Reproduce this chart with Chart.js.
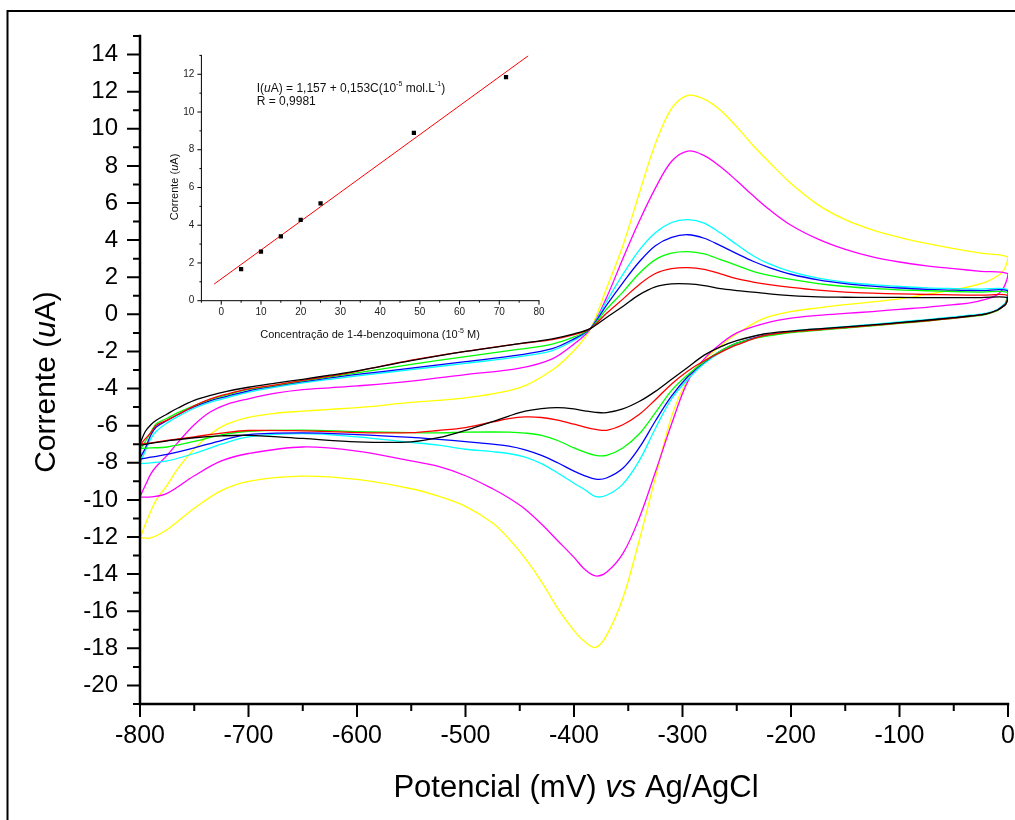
<!DOCTYPE html>
<html><head><meta charset="utf-8">
<script src="https://cdn.jsdelivr.net/npm/chart.js@4.4.1/dist/chart.umd.min.js"></script>
<style>
html,body{margin:0;padding:0;background:#fff;}
#wrap{position:relative;width:1015px;height:820px;overflow:hidden;background:#fff;}
#main{position:absolute;left:0;top:0;}
#inset{position:absolute;left:130px;top:40px;}
</style></head><body>
<div id="wrap"><canvas id="main" width="1015" height="820"></canvas><canvas id="inset" width="420" height="300"></canvas></div>
<script>
// ---------- main voltammogram data ----------
const potAnodic = [-800,-795,-790,-785,-775,-765,-750,-735,-720,-700,-675,-650,-625,-600,-550,-500,-450,-420,-400,-385,-370,-355,-340,-325,-310,-295,-280,-265,-250,-235,-220,-200,-175,-150,-125,-100,-75,-50,-25,0];
const potCathodic = [-2,-5,-10,-20,-35,-50,-75,-100,-125,-150,-175,-200,-225,-250,-265,-280,-295,-310,-325,-340,-355,-370,-380,-390,-400,-415,-430,-445,-460,-475,-500,-525,-550,-600,-650,-700,-725,-750,-775,-790,-800];

const blackAnodic = [-6.96,-6.3,-5.95,-5.71,-5.37,-5.05,-4.64,-4.37,-4.15,-3.93,-3.71,-3.50,-3.28,-3.05,-2.50,-2.0,-1.58,-1.32,-1.05,-0.77,-0.17,0.42,1.05,1.48,1.64,1.64,1.55,1.38,1.28,1.20,1.10,1.01,0.94,0.92,0.91,0.91,0.90,0.90,0.90,0.90];
const blackCathodic = [0.55,0.4,0.22,0.03,-0.09,-0.18,-0.32,-0.45,-0.57,-0.68,-0.78,-0.9,-1.06,-1.42,-1.75,-2.2,-2.85,-3.5,-4.15,-4.7,-5.1,-5.3,-5.28,-5.2,-5.1,-5.03,-5.08,-5.22,-5.48,-5.78,-6.25,-6.65,-6.87,-6.87,-6.69,-6.52,-6.55,-6.65,-6.82,-6.95,-7.05];

const redAnodic = [-7.05,-6.7,-6.38,-5.98,-5.7,-5.4,-4.93,-4.56,-4.3,-4.02,-3.80,-3.56,-3.33,-3.07,-2.47,-2.0,-1.58,-1.36,-1.1,-0.77,0.06,0.82,1.6,2.2,2.46,2.52,2.42,2.18,1.92,1.74,1.6,1.45,1.30,1.2,1.14,1.10,1.07,1.05,1.03,1.02];
const redCathodic = [0.56,0.42,0.22,0.02,-0.11,-0.2,-0.35,-0.47,-0.6,-0.72,-0.83,-0.95,-1.15,-1.65,-2.05,-2.5,-3.05,-3.75,-4.6,-5.4,-5.95,-6.25,-6.2,-6.08,-5.92,-5.7,-5.56,-5.53,-5.62,-5.8,-6.1,-6.26,-6.38,-6.37,-6.28,-6.26,-6.4,-6.6,-6.8,-6.93,-7.0];

const greenAnodic = [-7.3,-6.85,-6.35,-5.9,-5.6,-5.3,-4.92,-4.58,-4.34,-4.05,-3.83,-3.59,-3.37,-3.15,-2.7,-2.28,-1.88,-1.6,-1.22,-0.77,0.28,1.2,2.2,2.95,3.3,3.38,3.26,2.95,2.64,2.32,2.1,1.88,1.66,1.5,1.40,1.32,1.27,1.23,1.2,1.17];
const greenCathodic = [0.58,0.42,0.2,0.0,-0.12,-0.21,-0.36,-0.49,-0.62,-0.74,-0.86,-0.98,-1.2,-1.55,-1.98,-2.55,-3.25,-4.1,-5.3,-6.45,-7.2,-7.6,-7.6,-7.43,-7.2,-6.8,-6.52,-6.4,-6.35,-6.34,-6.35,-6.39,-6.38,-6.32,-6.24,-6.3,-6.5,-6.85,-7.15,-7.2,-7.23];

const blueAnodic = [-7.75,-7.2,-6.5,-6.07,-5.72,-5.4,-4.98,-4.65,-4.42,-4.12,-3.86,-3.63,-3.43,-3.24,-2.9,-2.55,-2.18,-1.85,-1.32,-0.77,0.5,1.7,2.82,3.7,4.15,4.29,4.1,3.7,3.27,2.86,2.52,2.16,1.86,1.66,1.52,1.42,1.35,1.3,1.28,1.26];
const blueCathodic = [0.6,0.44,0.22,0.02,-0.1,-0.19,-0.33,-0.46,-0.59,-0.71,-0.83,-0.95,-1.15,-1.55,-1.98,-2.58,-3.35,-4.4,-5.75,-7.2,-8.3,-8.82,-8.88,-8.7,-8.45,-8.0,-7.6,-7.3,-7.1,-7.0,-6.86,-6.74,-6.63,-6.48,-6.39,-6.48,-6.8,-7.2,-7.55,-7.7,-7.8];

const cyanAnodic = [-8.02,-7.35,-6.7,-6.3,-5.85,-5.5,-5.06,-4.73,-4.5,-4.19,-3.92,-3.69,-3.5,-3.32,-2.98,-2.64,-2.28,-1.95,-1.4,-0.77,0.7,2.15,3.45,4.4,4.95,5.1,4.92,4.38,3.76,3.16,2.72,2.3,1.95,1.73,1.6,1.5,1.43,1.39,1.36,1.33];
const cyanCathodic = [0.65,0.48,0.26,0.06,-0.05,-0.14,-0.28,-0.41,-0.54,-0.66,-0.78,-0.9,-1.15,-1.65,-2.05,-2.65,-3.5,-4.55,-6.15,-7.9,-9.15,-9.75,-9.82,-9.45,-9.1,-8.55,-8.05,-7.7,-7.5,-7.4,-7.27,-7.05,-6.9,-6.6,-6.43,-6.6,-7.0,-7.5,-7.9,-8.0,-8.04];

const magentaAnodic = [-9.84,-9.2,-8.6,-8.2,-7.6,-6.9,-5.95,-5.25,-4.85,-4.55,-4.25,-4.06,-3.96,-3.86,-3.6,-3.25,-2.9,-2.4,-1.6,-0.8,0.9,3.0,5.0,6.8,8.25,8.8,8.55,7.95,7.2,6.4,5.65,4.8,4.05,3.5,3.1,2.82,2.61,2.46,2.32,2.19];
const magentaCathodic = [1.7,1.35,1.05,0.82,0.62,0.52,0.38,0.27,0.15,0.05,-0.06,-0.21,-0.5,-1.0,-1.6,-2.4,-3.6,-5.9,-8.5,-11.0,-12.9,-13.9,-14.1,-13.75,-13.1,-12.2,-11.3,-10.5,-9.9,-9.4,-8.7,-8.2,-7.9,-7.37,-7.15,-7.5,-7.9,-8.7,-9.65,-9.84,-9.84];

const yellowAnodic = [-12.05,-11.3,-10.6,-10.0,-9.2,-8.3,-7.25,-6.45,-5.92,-5.55,-5.33,-5.22,-5.12,-5.03,-4.75,-4.5,-3.95,-3.0,-1.95,-0.8,1.4,3.7,6.5,9.2,11.1,11.8,11.6,11.0,10.1,9.1,8.2,7.05,5.9,5.1,4.55,4.15,3.82,3.54,3.3,3.09];
const yellowCathodic = [2.6,2.3,2.05,1.75,1.5,1.32,1.07,0.83,0.67,0.52,0.35,0.15,-0.22,-1.05,-1.7,-2.45,-3.5,-5.5,-8.8,-12.2,-15.3,-17.3,-17.95,-17.65,-17.05,-15.85,-14.4,-13.15,-12.1,-11.25,-10.35,-9.8,-9.4,-8.9,-8.72,-9.0,-9.5,-10.45,-11.6,-12.05,-12.03];

const seriesColors = ['#000000','#FF0000','#00FF00','#0000FF','#00FFFF','#FF00FF','#FFFF00'];
const seriesNames = ['black','red','green','blue','cyan','magenta','yellow'];
const anodicSets = [blackAnodic, redAnodic, greenAnodic, blueAnodic, cyanAnodic, magentaAnodic, yellowAnodic];
const cathodicSets = [blackCathodic, redCathodic, greenCathodic, blueCathodic, cyanCathodic, magentaCathodic, yellowCathodic];

// ---------- inset data ----------
const concentrations = [5, 10, 15, 20, 25, 48.5, 71.7];
const peakCurrents = [1.67, 2.6, 3.41, 4.28, 5.16, 8.9, 11.85];
const fitX = [-1.8, 77.3];
const fitY = [0.88, 12.98];

const FONT = "'Liberation Sans', Arial, Helvetica, sans-serif";

function loop(an, ca) {
  const pts = [];
  potAnodic.forEach((e, i) => pts.push({x: e, y: an[i]}));
  potCathodic.forEach((e, i) => pts.push({x: e, y: ca[i]}));
  pts.push({x: potAnodic[0], y: an[0]});
  return pts;
}

function drawRich(ctx, segs, x, y, size, align) {
  const fontOf = s => (s.i ? 'italic ' : '') + (s.sup ? Math.round(size * 0.62) : size) + 'px ' + FONT;
  let total = 0;
  segs.forEach(s => { ctx.font = fontOf(s); total += ctx.measureText(s.t).width; });
  let cx = align === 'center' ? x - total / 2 : x;
  ctx.textBaseline = 'middle';
  ctx.textAlign = 'left';
  segs.forEach(s => {
    ctx.font = fontOf(s);
    ctx.fillText(s.t, cx, s.sup ? y - size * 0.38 : y);
    cx += ctx.measureText(s.t).width;
  });
}

function drawAxes(chart, o) {
  const {ctx, chartArea: a} = chart;
  const xs = chart.scales.x, ys = chart.scales.y;
  ctx.save();
  ctx.strokeStyle = '#000';
  ctx.lineCap = 'square';
  ctx.lineWidth = o.axisW;
  ctx.beginPath();
  ctx.moveTo(a.left, a.top); ctx.lineTo(a.left, a.bottom); ctx.lineTo(a.right, a.bottom);
  ctx.stroke();
  ctx.lineCap = 'butt';
  ctx.lineWidth = o.tickW;
  ctx.beginPath();
  for (let k = 0; ; k++) {
    const v = ys.min + k * o.yStep; if (v > ys.max + 1e-9) break;
    const p = ys.getPixelForValue(v);
    const major = Math.abs(v / o.yMajor - Math.round(v / o.yMajor)) < 1e-6;
    ctx.moveTo(a.left, p); ctx.lineTo(a.left - (major ? o.major : o.minor), p);
  }
  for (let k = 0; ; k++) {
    const v = xs.min + k * o.xStep; if (v > xs.max + 1e-9) break;
    const p = xs.getPixelForValue(v);
    const major = Math.abs(v / o.xMajor - Math.round(v / o.xMajor)) < 1e-6;
    ctx.moveTo(p, a.bottom); ctx.lineTo(p, a.bottom + (major ? o.major : o.minor));
  }
  ctx.stroke();
  ctx.restore();
}

const mainDecor = {
  id: 'mainDecor',
  beforeDraw(chart) {
    const ctx = chart.ctx;
    ctx.save(); ctx.fillStyle = '#fff'; ctx.fillRect(0, 0, chart.width, chart.height); ctx.restore();
  },
  afterDraw(chart) {
    const ctx = chart.ctx;
    drawAxes(chart, {axisW: 2.5, tickW: 2, major: 13, minor: 7, yStep: 1, yMajor: 2, xStep: 50, xMajor: 100});
    ctx.save();
    ctx.fillStyle = '#000';
    ctx.translate(47, 382); ctx.rotate(-Math.PI / 2);
    drawRich(ctx, [{t: 'Corrente ('}, {t: 'u', i: true}, {t: 'A)'}], 0, 0, 30, 'center');
    ctx.restore();
    ctx.save(); ctx.fillStyle = '#000';
    drawRich(ctx, [{t: 'Potencial (mV) '}, {t: 'vs', i: true}, {t: ' Ag/AgCl'}], 576, 788, 31, 'center');
    ctx.restore();
    // frame
    ctx.save(); ctx.strokeStyle = '#000'; ctx.lineWidth = 2;
    ctx.beginPath(); ctx.moveTo(7.5, 830); ctx.lineTo(7.5, 11); ctx.lineTo(1030, 11); ctx.stroke();
    ctx.restore();
  }
};

new Chart(document.getElementById('main'), {
  type: 'scatter',
  data: {
    datasets: seriesNames.map((n, i) => ({
      label: n,
      data: loop(anodicSets[i], cathodicSets[i]),
      showLine: true,
      borderColor: seriesColors[i],
      backgroundColor: seriesColors[i],
      borderWidth: 1.3,
      pointRadius: 0,
      tension: 0.35
    }))
  },
  options: {
    responsive: false, animation: false, devicePixelRatio: 1,
    layout: {padding: {left: 0, top: 36, right: 7, bottom: 0}},
    plugins: {legend: {display: false}, tooltip: {enabled: false}},
    scales: {
      x: {
        type: 'linear', min: -800, max: 0,
        grid: {display: false, drawTicks: false}, border: {display: false},
        ticks: {stepSize: 50, autoSkip: false, maxRotation: 0, minRotation: 0, padding: 17, color: '#000',
          font: {family: FONT, size: 25}, callback: v => (Math.round(v) % 100 === 0 ? String(Math.round(v)) : '')},
        afterFit: s => { s.height = 116; s.paddingLeft = 0; s.paddingRight = 0; }
      },
      y: {
        type: 'linear', min: -21, max: 15,
        grid: {display: false, drawTicks: false}, border: {display: false},
        ticks: {stepSize: 1, autoSkip: false, padding: 22, color: '#000',
          font: {family: FONT, size: 24}, callback: v => (Math.round(v) % 2 === 0 ? String(Math.round(v)) : '')},
        afterFit: s => { s.width = 140; s.paddingTop = 0; s.paddingBottom = 0; }
      }
    }
  },
  plugins: [mainDecor]
});

// ---------- inset ----------
const insetDecor = {
  id: 'insetDecor',
  afterDraw(chart) {
    const ctx = chart.ctx;
    drawAxes(chart, {axisW: 1, tickW: 1, major: 4, minor: 2, yStep: 1, yMajor: 2, xStep: 5, xMajor: 10});
    ctx.save(); ctx.fillStyle = '#111';
    ctx.translate(45, 147); ctx.rotate(-Math.PI / 2);
    drawRich(ctx, [{t: 'Corrente ('}, {t: 'u', i: true}, {t: 'A)'}], 0, 0, 11, 'center');
    ctx.restore();
    ctx.save(); ctx.fillStyle = '#111';
    drawRich(ctx, [{t: 'Concentração de 1-4-benzoquimona (10'}, {t: '-5', sup: true}, {t: ' M)'}], 240, 295, 11, 'center');
    drawRich(ctx, [{t: 'I('}, {t: 'u', i: true}, {t: 'A) = 1,157 + 0,153C(10'}, {t: '-5', sup: true}, {t: ' mol.L'}, {t: '-1', sup: true}, {t: ')'}], 126.7, 48.5, 12, 'left');
    drawRich(ctx, [{t: 'R = 0,9981'}], 126.7, 62, 12, 'left');
    ctx.restore();
  }
};

new Chart(document.getElementById('inset'), {
  type: 'scatter',
  data: {
    datasets: [
      {label: 'points', data: concentrations.map((c, i) => ({x: c, y: peakCurrents[i]})),
        pointStyle: 'rect', pointRadius: 3, backgroundColor: '#000', borderColor: '#000', borderWidth: 0, showLine: false},
      {label: 'fit', data: fitX.map((c, i) => ({x: c, y: fitY[i]})),
        showLine: true, borderColor: '#FF0000', borderWidth: 1, pointRadius: 0}
    ]
  },
  options: {
    responsive: false, animation: false, devicePixelRatio: 1,
    layout: {padding: {left: 0, top: 15.4, right: 11, bottom: 0}},
    plugins: {legend: {display: false}, tooltip: {enabled: false}},
    scales: {
      x: {
        type: 'linear', min: -5, max: 80,
        grid: {display: false, drawTicks: false}, border: {display: false},
        ticks: {stepSize: 5, autoSkip: false, maxRotation: 0, minRotation: 0, padding: 6, color: '#222',
          font: {family: FONT, size: 10}, callback: v => (Math.round(v) % 10 === 0 ? String(Math.round(v)) : '')},
        afterFit: s => { s.height = 39.3; s.paddingLeft = 0; s.paddingRight = 0; }
      },
      y: {
        type: 'linear', min: 0, max: 13,
        grid: {display: false, drawTicks: false}, border: {display: false},
        ticks: {stepSize: 1, autoSkip: false, padding: 7, color: '#222',
          font: {family: FONT, size: 10}, callback: v => (Math.round(v) % 2 === 0 ? String(Math.round(v)) : '')},
        afterFit: s => { s.width = 71.4; s.paddingTop = 0; s.paddingBottom = 0; }
      }
    }
  },
  plugins: [insetDecor]
});
</script>
</body></html>
